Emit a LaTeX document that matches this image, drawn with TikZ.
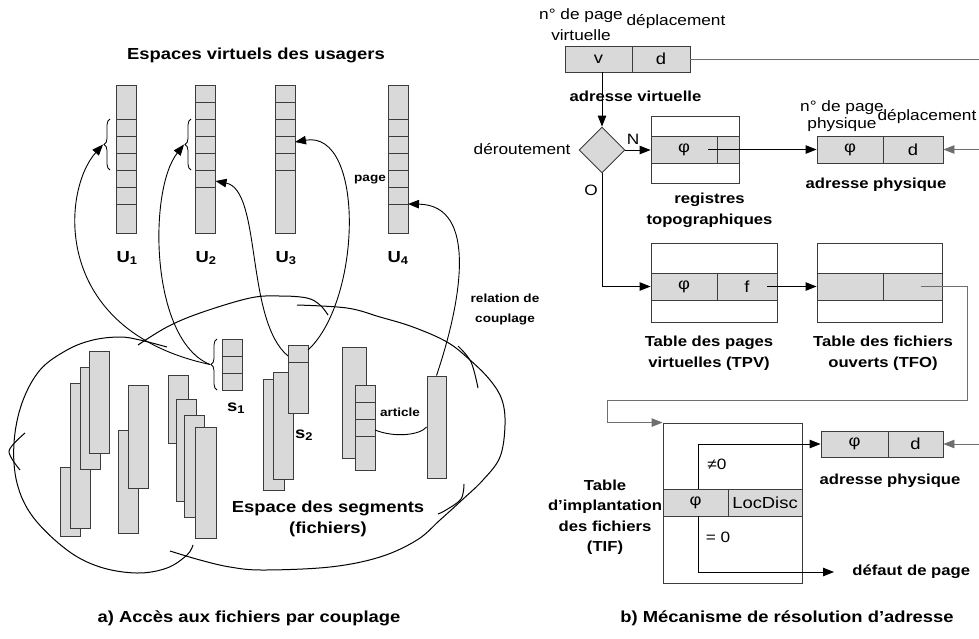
\documentclass[tikz,border=0pt]{standalone}
\usepackage{fontspec}
\setmainfont{Liberation Sans}[FakeStretch=1.15]
\usetikzlibrary{arrows.meta,shapes.geometric,decorations.pathreplacing,fit,calc}
\definecolor{cellgray}{RGB}{217,217,217}
\definecolor{edgegray}{RGB}{60,60,60}
\definecolor{linkgray}{RGB}{110,110,110}
\newcommand\FBig{\fontsize{16}{21}\selectfont\bfseries}
\newcommand\FMed{\fontsize{14.5}{20.5}\selectfont\bfseries}
\newcommand\FSmall{\fontsize{11.8}{20}\selectfont\bfseries}
\newcommand\FReg{\fontsize{15}{21}\selectfont}
\newcommand\FRegT{\fontsize{15}{17}\selectfont}
\newcommand\FCell{\fontsize{16}{19}\selectfont}
\begin{document}
\begin{tikzpicture}[x=1pt,y=-1pt,line width=0.9pt,
  arr/.style={-{Triangle[length=11pt,width=8.5pt]}},
  bx/.style={draw=edgegray,inner sep=0pt},
  cellbox/.style={draw=edgegray,fill=cellgray,inner sep=0pt,minimum height=27pt,font=\FCell},
  seg/.style={draw=edgegray,fill=cellgray,inner sep=0pt},
  sepline/.style={draw=edgegray,line width=0.8pt},
  lbl/.style={inner sep=0pt,align=center},
  brc/.style={decorate,decoration={brace,amplitude=6pt},line width=0.8pt},
  blob/.style={line width=1pt}
]
\useasboundingbox (0,0) rectangle (979,638);

% ================= LEFT PART =================
\node[lbl,font=\FBig] (title) at (256,55) {Espaces virtuels des usagers};

% user spaces
\node[seg,fit={(116,85) (136,233)}] (u1) {};
\node[seg,fit={(195.5,85) (215.5,233)}] (u2) {};
\node[seg,fit={(275,85) (295,233)}] (u3) {};
\node[seg,fit={(388,85) (408,233)}] (u4) {};
\foreach \yy in {119,136,153,170,187,204} \draw[sepline] (116,\yy) -- (136,\yy);
\foreach \yy in {102,119,136,153,170,187} \draw[sepline] (195.5,\yy) -- (215.5,\yy);
\foreach \yy in {102,119,136,153,170} \draw[sepline] (275,\yy) -- (295,\yy);
\foreach \yy in {119,136,153,170,187,204} \draw[sepline] (388,\yy) -- (408,\yy);

\node[lbl,font=\FBig] (lu1) at (127,258) {U\textsubscript{1}};
\node[lbl,font=\FBig] (lu2) at (206,258) {U\textsubscript{2}};
\node[lbl,font=\FBig] (lu3) at (286,258) {U\textsubscript{3}};
\node[lbl,font=\FBig] (lu4) at (398,258) {U\textsubscript{4}};
\node[lbl,font=\FSmall] (lpage) at (370,180) {page};

% braces
\draw[brc] (110,170) -- (110,119);
\draw[brc] (191,170) -- (191,119);
\coordinate (u1tip) at (103,144.5);
\coordinate (u2tip) at (184,144.5);

% segment space cloud
\draw[blob] plot[smooth,tension=0.6] coordinates {(167,347) (140,340) (120,337) (93,340) (67,350) (40,370) (22,403) (14,443) (17,483) (33,517) (67,550) (100,567) (137,573) (167,568) (187,555) (193,545)};
\draw[blob] plot[smooth,tension=0.5] coordinates {(25,433) (9,451) (20,470)};
\draw[blob] plot[smooth,tension=0.6] coordinates {(138,345) (167,327) (200,313) (250,298) (280,296) (307,298) (320,305) (328,315)};
\draw[blob] plot[smooth,tension=0.6] coordinates {(297,305) (347,308) (380,317) (413,327) (447,342) (470,360) (490,380) (502,400) (505,425) (500,457) (483,480) (462,500) (440,520) (417,540) (380,557) (330,567) (263,570) (230,567) (200,560) (170,551)};
\draw[blob] plot[smooth,tension=0.6] coordinates {(458,346) (471,362) (478,388)};
\draw[blob] plot[smooth,tension=0.6] coordinates {(464,484) (461,499) (446,510) (438,514)};

% segments
\node[seg,fit={(60,467) (80,536)}] (f1) {};
\node[seg,fit={(70,383) (90,528)}] (f2) {};
\node[seg,fit={(80,367) (100,469)}] (f3) {};
\node[seg,fit={(89,351) (109,453)}] (f4) {};
\node[seg,fit={(118,430) (138,533)}] (f5) {};
\node[seg,fit={(128,385) (148,488)}] (f6) {};
\node[seg,fit={(168,375) (188,443)}] (f7) {};
\node[seg,fit={(176,399) (196,501)}] (f8) {};
\node[seg,fit={(184,415) (204,517)}] (f9) {};
\node[seg,fit={(195,427) (216,538)}] (f10) {};
\node[seg,fit={(263,379) (284,490)}] (f11) {};
\node[seg,fit={(273,372) (293,479)}] (f12) {};
\node[seg,fit={(288,345) (308,413)}] (s2) {};
\draw[sepline] (288,362) -- (308,362);
\node[seg,fit={(342,347) (366,458)}] (f14) {};
\node[seg,fit={(355,385) (375,470)}] (f15) {};
\foreach \yy in {402,419,436} \draw[sepline] (355,\yy) -- (375,\yy);
\node[seg,fit={(427,376) (446,478)}] (f16) {};
\node[seg,fit={(222,339) (242,390)}] (s1) {};
\foreach \yy in {356,373} \draw[sepline] (222,\yy) -- (242,\yy);
\draw[brc] (217,390) -- (217,339);
\coordinate (s1tip) at (210,364.5);

\node[lbl,font=\FBig] (ls1) at (236,408) {s\textsubscript{1}};
\node[lbl,font=\FBig] (ls2) at (304,435) {s\textsubscript{2}};
\node[lbl,font=\FSmall] (lart) at (400,412) {article};
\node[lbl,font=\FSmall] (lrel) at (505,309) {relation de\\couplage};
\node[lbl,font=\FBig] (lesp) at (328,519) {Espace des segments\\(fichiers)};

% coupling arrows
\coordinate (u2p) at (215.5,181);
\coordinate (u3p) at (295,142);
\coordinate (u4p) at (408,204);
\coordinate (s2l) at (288,356);
\coordinate (s2r) at (308,350);
\coordinate (artp) at (375,430);
\draw[arr] (s1tip) .. controls (50,330) and (62,190) .. (u1tip);
\draw[arr] (s1tip) .. controls (150,340) and (148,190) .. (u2tip);
\draw[arr] (s2l) .. controls (245,320) and (262,190) .. (u2p);
\draw[arr] (s2r) .. controls (362,300) and (365,130) .. (u3p);
\draw[arr] (f16.north) .. controls (462,300) and (478,205) .. (u4p);
\draw (artp) .. controls (395,438) and (420,435) .. (f16.west);

\node[lbl,font=\FBig] (capa) at (249,618) {a) Accès aux fichiers par couplage};

% ================= RIGHT PART =================
\node[cellbox,minimum width=67pt,minimum height=26pt] (vL) at (598.5,59) {v};
\node[cellbox,minimum width=58pt,minimum height=26pt] (vR) at (661,59) {d};
\node[lbl,font=\FReg] (nvp) at (581,24.5) {n° de page\\virtuelle};
\node[lbl,font=\FReg] (dep1) at (676,22) {déplacement};
\node[lbl,font=\FMed] (av) at (635.5,96) {adresse virtuelle};
\coordinate (edgeV) at (979,59);
\draw[linkgray] (vR.east) -- (edgeV);

\node[draw=edgegray,fill=cellgray,diamond,minimum width=46pt,minimum height=46pt,inner sep=0pt] (dia) at (602,150) {};
\node[lbl,font=\FReg,anchor=east] (der) at (571,149) {déroutement};
\node[lbl,font=\FReg] (nN) at (633,139) {N};
\node[lbl,font=\FReg] (nO) at (591,190) {O};
\draw[arr] (dia.north |- vL.south) -- (dia.north);

% registres topographiques
\node[bx,fit={(651,116) (739,183)}] (reg) {};
\node[cellbox,minimum width=66pt] (regL) at (684,149.5) {φ};
\node[cellbox,minimum width=22pt] (regR) at (728,149.5) {};
\node[lbl,font=\FMed] (regt) at (709.5,210.5) {registres\\topographiques};
\draw[arr] (dia.east) -- (dia.east -| regL.west);

% physical address 1
\node[cellbox,minimum width=66pt] (pa1L) at (850,149.5) {φ};
\node[cellbox,minimum width=60pt] (pa1R) at (913,149.5) {d};
\node[lbl,font=\FRegT] (npp) at (842,116.5) {n° de page\\physique};
\node[lbl,font=\FReg] (dep2) at (927,117) {déplacement};
\node[lbl,font=\FMed] (ap1) at (876,185) {adresse physique};
\draw[arr] ([xshift=24pt]regL.center) -- (pa1L.west);
\coordinate (edgeA) at (979,149.5);
\draw[arr,linkgray] (edgeA) -- (pa1R.east);

% TPV
\node[bx,fit={(651,243) (777,322)}] (tpv) {};
\node[cellbox,minimum width=66pt] (tpvL) at (684,286.5) {φ};
\node[cellbox,minimum width=60pt] (tpvR) at (747,286.5) {f};
\node[lbl,font=\FMed] (tpvt) at (709,353) {Table des pages\\virtuelles (TPV)};
\draw[arr] (dia.south) |- (tpvL.west);

% TFO
\node[bx,fit={(817,243) (942,322)}] (tfo) {};
\node[cellbox,minimum width=66pt] (tfoL) at (850,286.5) {};
\node[cellbox,minimum width=59pt] (tfoR) at (912.5,286.5) {};
\node[lbl,font=\FMed] (tfot) at (883,353) {Table des fichiers\\ouverts (TFO)};
\draw[arr] ([xshift=20pt]tpvR.center) -- (tfoL.west);

% TIF
\node[bx,fit={(663,423) (802,583)}] (tif) {};
\node[cellbox,minimum width=65pt] (tifL) at (695.5,502.5) {φ};
\node[cellbox,minimum width=74pt] (tifR) at (765,502.5) {LocDisc};
\node[lbl,font=\FMed] (tift) at (605,517) {Table\\d’implantation\\des fichiers\\(TIF)};
\node[lbl,font=\FReg] (ne0) at (717,464) {≠0};
\node[lbl,font=\FReg] (eq0) at (718,537) {= 0};
\coordinate (tp1) at (967,400);
\coordinate (tp2) at (607,400);
\draw[arr,linkgray] ([xshift=8pt]tfoR.center) -| (tp1) -- (tp2) |- (tif.north west);

% physical address 2
\node[cellbox,minimum width=67pt,minimum height=26pt] (pa2L) at (854.5,444) {φ};
\node[cellbox,minimum width=55pt,minimum height=26pt] (pa2R) at (915.5,444) {d};
\node[lbl,font=\FMed] (ap2) at (890,481) {adresse physique};
\draw[arr] ([xshift=3pt]tifL.north) |- (pa2L.west);
\coordinate (edgeB) at (979,444);
\draw[arr,linkgray] (edgeB) -- (pa2R.east);

\node[lbl,font=\FMed,anchor=west] (dfp) at (852,572) {défaut de page};
\coordinate (dpend) at (834,572);
\draw[arr] ([xshift=3pt]tifL.south) |- (dpend);

\node[lbl,font=\FBig] (capb) at (787,618) {b) Mécanisme de résolution d’adresse};
\end{tikzpicture}
\end{document}
